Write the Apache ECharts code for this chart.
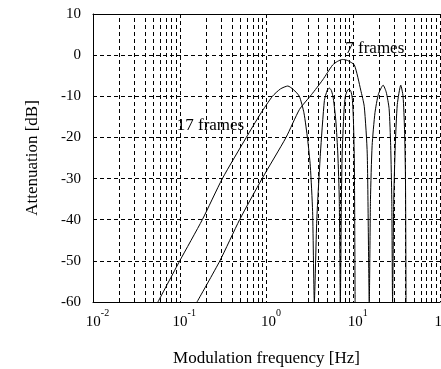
<!DOCTYPE html>
<html>
<head>
<meta charset="utf-8">
<script src="https://cdn.jsdelivr.net/npm/echarts@6/dist/echarts.min.js"></script>
<style>
  html, body { margin: 0; padding: 0; background: #fff; }
  #chart { width: 441px; height: 369px; }
</style>
</head>
<body>
<div id="chart"></div>
<script>
// 17-frame filter response (Hz, dB)
const freq17 = [0.056, 0.1, 0.182, 0.31, 0.585, 0.85, 1.17, 1.45, 1.76, 2.05, 2.39, 2.7, 2.98, 3.2, 3.4, 3.56,
  3.8, 4.18, 4.65, 5.0, 5.3, 5.6, 5.89, 6.3, 6.64, 6.9, 7.1,
  7.3, 7.45, 7.8, 8.1, 8.6, 9.0, 9.4, 9.75, 10.05, 10.3, 10.5]
const db17 = [-60, -50, -40, -30, -20, -14.3, -10, -8.2, -7.5, -8.4, -10, -14, -20.5, -27, -38, -60,
  -40, -24, -11, -8.6, -8, -8.6, -10.5, -16, -24, -35, -60,
  -35, -24, -14, -10, -8.5, -8.3, -8.8, -10.5, -16, -26, -60]

// 7-frame filter response
const freq7 = [0.158, 0.29, 0.49, 0.89, 1.68, 2.4, 3.3, 4.45, 5.78, 6.6, 7.5, 8.6, 10.3, 12.2, 13.4, 14.5, 15.3,
  15.8, 16.5, 17.8, 19.5, 22.1, 24.0, 25.9, 27.0, 27.8, 28.4,
  29.3, 30.5, 32.2, 35.3, 37.5, 39.0, 40.0, 40.6]
const db7 = [-60, -50, -40, -30, -20, -13.2, -9.6, -6, -2.4, -1.5, -1.05, -1.3, -2.4, -8.5, -12.5, -24, -60,
  -35, -22, -14, -9.5, -7.3, -9, -13, -22, -35, -60,
  -35, -22, -12, -7.3, -10, -18, -30, -60]

const yTicks = { min: -60, max: 10, step: 10 }
const decades = [0.01, 0.1, 1, 10]

const font = 'Liberation Serif'
const dash = [4, 3]

// log-axis minor grid at 2..9 x 10^k
const minorLines = []
decades.forEach(d => {
  for (let m = 2; m <= 9; m++) minorLines.push({ xAxis: d * m })
})

const chart = echarts.init(document.getElementById('chart'), null, { renderer: 'canvas' })

const textLabel = (text, coord) => ({
  symbol: 'rect',
  symbolSize: 1,
  itemStyle: { color: 'transparent' },
  label: { show: true, position: 'inside', formatter: text, fontFamily: font, fontSize: 17, color: '#000' },
  data: [{ coord }],
})

const lineSeries = (name, fs, ds, extra) => Object.assign({
  name,
  type: 'line',
  data: fs.map((f, i) => [f, ds[i]]),
  symbol: 'none',
  smooth: 0.2,
  clip: true,
  lineStyle: { color: '#000', width: 1 },
  z: 3,
}, extra)

chart.setOption({
  animation: false,
  backgroundColor: '#fff',
  grid: { left: 93, right: 1, top: 14, bottom: 67, outerBoundsMode: 'none', containLabel: false },
  xAxis: [{
    type: 'log',
    logBase: 10,
    min: 0.01,
    max: 100,
    name: 'Modulation frequency [Hz]',
    nameLocation: 'middle',
    nameGap: 48,
    nameTextStyle: { fontFamily: font, fontSize: 17, color: '#000' },
    axisLine: { show: true, onZero: false, lineStyle: { color: '#000', width: 1 } },
    axisTick: { show: false },
    splitLine: { show: true, lineStyle: { color: '#000', type: dash, width: 1 } },
    axisLabel: {
      margin: 6,
      padding: [0, 0, 0, 9],
      formatter: v => `{b|10}{s|${Math.round(Math.log10(v))}}`,
      rich: {
        b: { fontFamily: font, fontSize: 15, color: '#000', lineHeight: 22, verticalAlign: 'bottom' },
        s: { fontFamily: font, fontSize: 10, color: '#000', lineHeight: 10, verticalAlign: 'top' },
      },
    },
  }, {
    type: 'log',
    logBase: 10,
    min: 0.01,
    max: 100,
    position: 'top',
    axisLine: { show: true, onZero: false, lineStyle: { color: '#000', width: 1 } },
    axisTick: { show: false },
    axisLabel: { show: false },
    splitLine: { show: false },
  }],
  yAxis: {
    type: 'value',
    min: yTicks.min,
    max: yTicks.max,
    interval: yTicks.step,
    name: 'Attenuation [dB]',
    nameLocation: 'middle',
    nameGap: 52,
    nameTextStyle: { fontFamily: font, fontSize: 17, color: '#000' },
    axisLine: { show: true, onZero: false, lineStyle: { color: '#000', width: 1 } },
    axisTick: { show: false },
    axisLabel: { margin: 12, fontFamily: font, fontSize: 15, color: '#000' },
    splitLine: { show: true, lineStyle: { color: '#000', type: dash, width: 1 } },
  },
  series: [
    lineSeries('17 frames', freq17, db17, {
      markLine: {
        silent: true,
        symbol: 'none',
        label: { show: false },
        lineStyle: { color: '#000', type: dash, width: 1 },
        data: minorLines,
        z: 1,
      },
      markPoint: textLabel('17 frames', [0.226, -17]),
    }),
    lineSeries('7 frames', freq7, db7, {
      markPoint: textLabel('7 frames', [17.7, 1.7]),
    }),
  ],
})
</script>
</body>
</html>
